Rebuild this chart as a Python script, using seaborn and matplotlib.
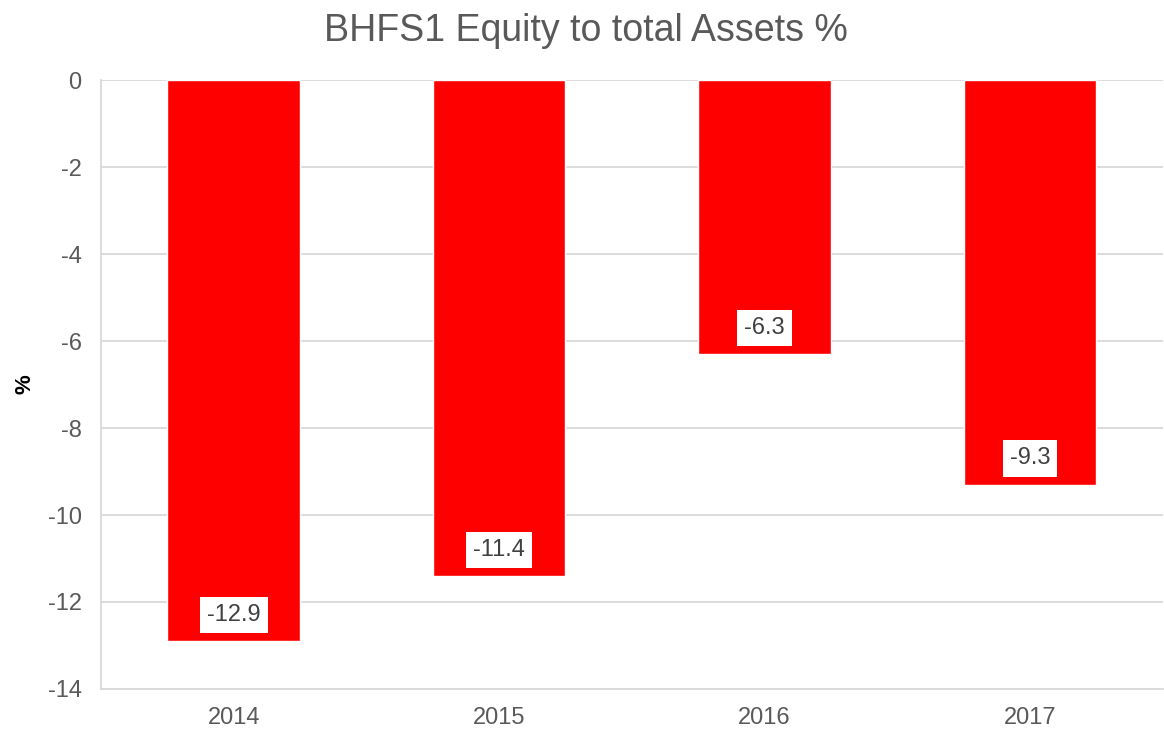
import pandas as pd
import matplotlib.pyplot as plt
import seaborn as sns

years = ["2014", "2015", "2016", "2017"]
equity_pct = [-12.9, -11.4, -6.3, -9.3]

sns.set_style("white")
plt.rcParams['font.family'] = ['Liberation Sans', 'DejaVu Sans']
plt.rcParams['axes.unicode_minus'] = False

df = pd.DataFrame({"year": years, "value": equity_pct})

fig = plt.figure(figsize=(11.64, 7.35), dpi=100)
ax = fig.add_axes([0.0868, 0.0626, 0.912, 0.8285])

sns.barplot(data=df, x="year", y="value", color="#FF0000", saturation=1,
            width=0.5, ax=ax, zorder=3)

ax.set_ylim(-14, 0)
ax.set_yticks(range(-14, 1, 2))
ax.yaxis.grid(True, color="#D9D9D9", linewidth=1.3, zorder=0)
ax.set_axisbelow(True)
for s in ["top", "right"]:
    ax.spines[s].set_visible(False)
for s in ["left", "bottom"]:
    ax.spines[s].set_color("#D9D9D9")
    ax.spines[s].set_linewidth(1.3)
ax.tick_params(axis="both", length=0, labelsize=17, colors="#595959", pad=14)
ax.tick_params(axis="x", pad=13)
ax.set_xlabel("")
ax.set_ylabel("%", fontsize=16, fontweight="bold", color="black")
ax.yaxis.set_label_coords(-0.062, 0.5)

# title is centred on the whole figure, not on the axes
fig.text(0.503, 0.958, "BHFS1 Equity to total Assets %", fontsize=27,
         color="#595959", ha="center", va="center")

for i, v in enumerate(equity_pct):
    ax.text(i, v + 0.6, f"{v:.1f}", ha="center", va="center", fontsize=17,
            color="#404040", zorder=5,
            bbox=dict(boxstyle="square,pad=0.3", facecolor="white", edgecolor="none"))

fig.savefig("out.png", dpi=100)
